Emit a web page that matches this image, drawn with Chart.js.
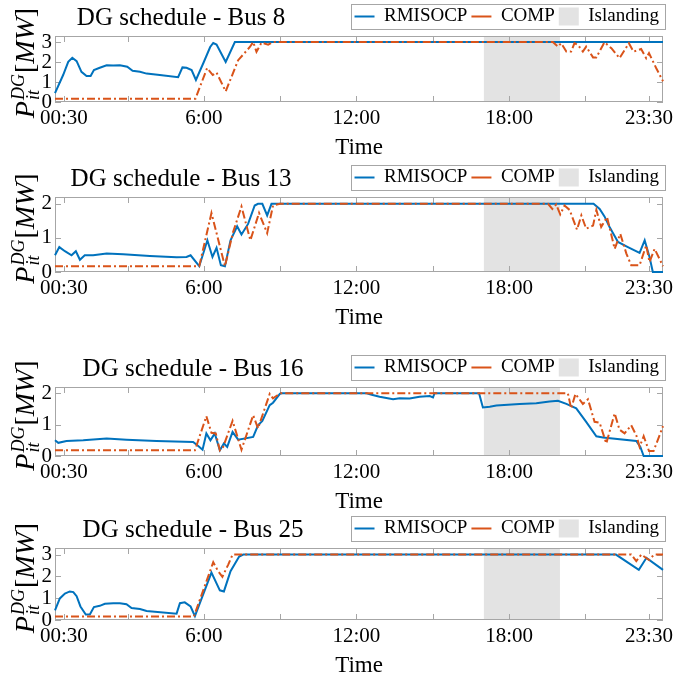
<!DOCTYPE html>
<html>
<head>
<meta charset="utf-8">
<script src="https://cdn.jsdelivr.net/npm/chart.js@4.4.1/dist/chart.umd.min.js"></script>
<style>
  body { margin: 0; background: #fff; }
  #page { position: relative; width: 674px; height: 681px; overflow: hidden; }
  .panel { position: absolute; left: 0; width: 674px; height: 180px; }
</style>
</head>
<body>
<div id="page"></div>
<script>
// time in hours, power in MW
const bus8Rmisocp = [[0.15,0.44],[0.47,1.35],[0.67,2.01],[0.83,2.21],[1.0,2.04],[1.19,1.51],[1.39,1.30],[1.55,1.30],[1.68,1.60],[1.91,1.71],[2.18,1.84],[2.44,1.83],[2.70,1.84],[2.99,1.76],[3.2,1.56],[3.49,1.51],[3.75,1.42],[4.27,1.35],[4.99,1.24],[5.16,1.73],[5.32,1.71],[5.52,1.60],[5.69,1.10],[6.0,2.0],[6.25,2.75],[6.37,2.95],[6.5,2.87],[6.86,2.0],[7.22,3.0],[24.05,3.0]];
const bus8Comp = [[0.15,0.16],[5.67,0.16],[6.13,1.70],[6.35,1.35],[6.5,1.47],[6.86,0.53],[7.35,2.09],[7.81,2.75],[7.94,3.0],[8.07,2.51],[8.27,2.97],[8.53,2.87],[8.72,3.0],[19.72,3.0],[19.92,2.77],[20.05,2.94],[20.25,2.52],[20.44,2.52],[20.57,2.94],[20.71,2.85],[20.9,2.52],[21.03,2.77],[21.3,2.23],[21.43,2.23],[21.75,2.99],[22.02,2.69],[22.34,2.19],[22.71,2.94],[22.89,2.52],[23.19,2.65],[23.39,2.19],[23.5,2.44],[23.78,1.70],[24.05,1.04]];

const bus13Rmisocp = [[0.15,0.49],[0.32,0.73],[0.54,0.61],[0.8,0.49],[0.97,0.61],[1.13,0.36],[1.32,0.49],[1.65,0.49],[2.18,0.54],[2.83,0.52],[3.88,0.47],[4.93,0.43],[5.32,0.44],[5.48,0.49],[5.82,0.17],[6.14,0.93],[6.34,0.44],[6.5,0.71],[6.67,0.2],[6.83,0.17],[7.05,0.93],[7.31,1.34],[7.48,1.10],[7.74,1.41],[8.0,1.95],[8.13,2.0],[8.3,2.0],[8.49,1.66],[8.66,2.0],[21.32,2.0],[21.56,1.85],[21.75,1.63],[21.95,1.32],[22.28,0.88],[22.67,0.73],[23.13,0.56],[23.33,0.93],[23.52,0.44],[23.65,0],[24.05,0]];
const bus13Comp = [[0.15,0.17],[5.82,0.17],[6.3,1.73],[6.83,0.17],[7.15,1.17],[7.48,1.92],[7.83,0.93],[8.17,1.73],[8.49,1.14],[8.72,1.95],[8.99,2.0],[19.53,2.0],[19.7,1.85],[19.85,1.98],[20.01,1.69],[20.18,1.95],[20.38,1.82],[20.67,1.24],[20.84,1.66],[21.03,1.27],[21.3,1.36],[21.43,1.82],[21.62,1.32],[21.85,1.61],[22.15,0.68],[22.37,1.12],[22.61,0.54],[22.8,0.2],[23.13,0.2],[23.39,0.78],[23.52,0.29],[23.72,0.68],[24.05,0.17]];

const bus16Rmisocp = [[0.15,0.5],[0.28,0.42],[0.6,0.48],[1.26,0.5],[2.18,0.56],[2.96,0.52],[4.14,0.48],[5.58,0.45],[5.78,0.32],[5.95,0.2],[6.1,0.72],[6.26,0.5],[6.43,0.72],[6.63,0.18],[6.79,0.4],[6.92,0.29],[7.13,0.77],[7.35,0.52],[7.94,0.61],[8.13,0.98],[8.3,1.12],[8.59,1.62],[8.72,1.7],[8.99,1.98],[9.05,2.0],[12.4,2.0],[12.6,1.95],[12.91,1.89],[13.44,1.81],[13.7,1.84],[14.09,1.83],[14.48,1.89],[14.88,1.91],[15.01,1.87],[15.07,2.0],[16.82,2.0],[16.97,1.55],[17.24,1.57],[17.5,1.61],[18.41,1.66],[19.07,1.68],[19.59,1.74],[19.92,1.76],[20.25,1.66],[20.64,1.52],[21.03,1.09],[21.43,0.63],[21.69,0.59],[23.0,0.48],[23.16,0.29],[23.29,0],[24.05,0]];
const bus16Comp = [[0.15,0.18],[5.65,0.18],[6.1,1.27],[6.3,0.74],[6.47,0.72],[6.63,0.18],[6.76,0.29],[7.13,1.12],[7.48,0.2],[7.94,1.3],[8.13,0.88],[8.59,1.98],[8.72,1.84],[9.01,2.0],[20.31,2.0],[20.44,1.52],[20.61,1.98],[20.9,1.66],[21.1,1.81],[21.36,1.09],[21.56,1.06],[21.82,0.4],[22.15,1.36],[22.34,0.84],[22.54,0.72],[22.8,0.98],[23.0,0.66],[23.13,0.29],[23.29,0.63],[23.5,0.16],[23.68,0.16],[24.05,0.95]];

const bus25Rmisocp = [[0.15,0.44],[0.34,0.99],[0.54,1.21],[0.73,1.31],[0.87,1.28],[1.0,1.09],[1.15,0.62],[1.36,0.25],[1.52,0.25],[1.68,0.59],[1.91,0.65],[2.11,0.74],[2.44,0.77],[2.7,0.77],[2.96,0.72],[3.16,0.55],[3.49,0.5],[3.75,0.41],[4.93,0.29],[5.06,0.77],[5.25,0.81],[5.48,0.62],[5.65,0.18],[6.3,2.17],[6.63,1.36],[6.79,1.31],[7.05,2.24],[7.39,2.91],[7.55,3.0],[22.2,3.0],[23.1,2.3],[23.4,2.85],[24.05,2.3]];
const bus25Comp = [[0.15,0.16],[5.61,0.16],[6.37,2.65],[6.56,2.24],[6.73,1.98],[6.96,2.54],[7.13,3.0],[22.8,3.0],[23.0,2.7],[23.2,3.0],[23.5,2.75],[23.7,3.0],[24.05,3.0]];

const busTitles = ['DG schedule - Bus 8', 'DG schedule - Bus 13', 'DG schedule - Bus 16', 'DG schedule - Bus 25'];
const rmisocpSeries = [bus8Rmisocp, bus13Rmisocp, bus16Rmisocp, bus25Rmisocp];
const compSeries = [bus8Comp, bus13Comp, bus16Comp, bus25Comp];
const yMaxes = [3.3, 2.2, 2.2, 3.3];
const yTickSets = [[0, 1, 2, 3], [0, 1, 2], [0, 1, 2], [0, 1, 2, 3]];
const xTickHours = [0.5, 3, 6, 9, 12, 15, 18, 21, 23.5];
const xTickLabels = ['00:30', '', '6:00', '', '12:00', '', '18:00', '', '23:30'];
const islanding = [17, 20];

const SERIF = '"Liberation Serif", "DejaVu Serif", serif';
const BLUE = '#0072BD';
const ORANGE = '#D95319';
const ISL = '#e3e3e3';
const AXIS = '#a6a6a6';

// plot box top/bottom on the page and title centre x
const boxes = [[36, 102], [197, 272], [387, 456], [548, 620]];
const titleX = [181, 181, 193, 193];

const panelPlugin = {
  id: 'panel',
  afterDatasetDraw(chart, args) {
    if (args.index !== 2) return;
    const { ctx, chartArea: a, scales: { x, y } } = chart;
    const i = chart.options.plugins.panel.idx;
    ctx.save();
    ctx.strokeStyle = AXIS;
    ctx.lineWidth = 1;
    ctx.strokeRect(a.left + 0.5, a.top + 0.5, a.width - 1, a.height - 1);
    ctx.beginPath();
    xTickHours.forEach(h => {
      const px = Math.round(x.getPixelForValue(h)) + 0.5;
      ctx.moveTo(px, a.bottom); ctx.lineTo(px, a.bottom - 6);
      ctx.moveTo(px, a.top); ctx.lineTo(px, a.top + 6);
    });
    yTickSets[i].forEach(v => {
      const py = Math.round(y.getPixelForValue(v)) + 0.5;
      ctx.moveTo(a.left, py); ctx.lineTo(a.left + 6, py);
      ctx.moveTo(a.right, py); ctx.lineTo(a.right - 6, py);
    });
    ctx.stroke();
    ctx.restore();
  },
  afterDraw(chart) {
    const { ctx, chartArea: a } = chart;
    const i = chart.options.plugins.panel.idx;
    ctx.save();
    // title
    ctx.fillStyle = '#000';
    ctx.font = '25px ' + SERIF;
    ctx.textAlign = 'center';
    ctx.textBaseline = 'middle';
    ctx.fillText(busTitles[i], titleX[i], a.top - 18);
    // legend frame
    const hb = chart.legend.legendHitBoxes;
    const l = Math.min(...hb.map(b => b.left)) - 4;
    const r = Math.max(...hb.map(b => b.left + b.width)) + 6;
    const t = hb[0].top - 3;
    const bt = hb[0].top + hb[0].height + 3;
    ctx.strokeStyle = AXIS;
    ctx.lineWidth = 1;
    ctx.strokeRect(Math.round(l) + 0.5, Math.round(t) + 0.5, Math.round(r - l), Math.round(bt - t));
    // y label P_it^DG [MW]
    ctx.translate(34, (a.top + a.bottom) / 2 - 6);
    ctx.rotate(-Math.PI / 2);
    ctx.textAlign = 'left';
    ctx.textBaseline = 'alphabetic';
    const big = 28, small = 18;
    const parts = [
      { s: 'P', f: 'italic ' + big + 'px ' + SERIF },
      { s: 'DG', f: 'italic ' + small + 'px ' + SERIF, dy: -10 },
      { s: 'it', f: 'italic ' + small + 'px ' + SERIF, dy: 5 },
      { s: '[', f: big + 'px ' + SERIF },
      { s: 'MW', f: 'italic ' + big + 'px ' + SERIF },
      { s: ']', f: big + 'px ' + SERIF }
    ];
    parts.forEach(p => { ctx.font = p.f; p.w = ctx.measureText(p.s).width; });
    const scriptW = Math.max(parts[1].w, parts[2].w) + 1;
    const total = parts[0].w + 1 + scriptW + parts[3].w + parts[4].w + parts[5].w;
    let cx = -total / 2;
    ctx.font = parts[0].f; ctx.fillText('P', cx, 0); cx += parts[0].w + 1;
    ctx.font = parts[1].f; ctx.fillText('DG', cx, parts[1].dy);
    ctx.fillText('it', cx, parts[2].dy); cx += scriptW;
    for (let k = 3; k < 6; k++) { ctx.font = parts[k].f; ctx.fillText(parts[k].s, cx, 0); cx += parts[k].w; }
    ctx.restore();
  }
};

const page = document.getElementById('page');

function buildPanel(i) {
  const wrap = document.createElement('div');
  wrap.className = 'panel';
  page.appendChild(wrap);
  const canvas = document.createElement('canvas');
  wrap.appendChild(canvas);
  const toXY = arr => arr.map(p => ({ x: p[0], y: p[1] }));
  const chart = new Chart(canvas, {
    type: 'line',
    data: {
      datasets: [
        { label: 'RMISOCP', data: toXY(rmisocpSeries[i]), borderColor: BLUE, backgroundColor: BLUE,
          borderWidth: 2, pointRadius: 0, pointStyle: 'line', order: 1, clip: 3 },
        { label: 'COMP', data: toXY(compSeries[i]), borderColor: ORANGE, backgroundColor: ORANGE,
          borderWidth: 2, borderDash: [8, 3, 2, 3], pointRadius: 0, pointStyle: 'line', order: 0, clip: 3 },
        { label: 'Islanding', data: islanding.map(h => ({ x: h, y: yMaxes[i] })), borderColor: 'rgba(0,0,0,0)',
          backgroundColor: ISL, borderWidth: 0, pointRadius: 0, pointStyle: 'rect', fill: 'start', order: 2 }
      ]
    },
    options: {
      responsive: true,
      maintainAspectRatio: false,
      animation: false,
      events: [],
      devicePixelRatio: 1,
      layout: { padding: { top: 2, right: 11, left: 0, bottom: 0 } },
      plugins: {
        panel: { idx: i },
        tooltip: { enabled: false },
        legend: {
          position: 'top',
          align: 'end',
          labels: {
            usePointStyle: true, pointStyleWidth: 20, boxHeight: 18, padding: 4,
            color: '#000', font: { family: SERIF, size: 19 },
            sort: (a, b) => a.datasetIndex - b.datasetIndex
          }
        }
      },
      scales: {
        x: {
          type: 'linear', min: 0.15, max: 24.05,
          grid: { display: false, drawTicks: false }, border: { display: false },
          afterBuildTicks: s => { s.ticks = xTickHours.map(v => ({ value: v })); },
          ticks: { autoSkip: false, maxRotation: 0, padding: 4, color: '#000',
            font: { family: SERIF, size: 21 }, callback: (v, k) => xTickLabels[k] },
          title: { display: true, text: 'Time', color: '#000', font: { family: SERIF, size: 23 },
            padding: { top: 0, bottom: 2 } },
          afterFit: s => { s.height = 62; s.paddingLeft = 0; s.paddingRight = 0; }
        },
        y: {
          min: 0, max: yMaxes[i],
          grid: { display: false, drawTicks: false }, border: { display: false },
          afterBuildTicks: s => { s.ticks = yTickSets[i].map(v => ({ value: v })); },
          ticks: { autoSkip: false, padding: 3, color: '#000', font: { family: SERIF, size: 21 } },
          afterFit: s => { s.width = 55; }
        }
      }
    },
    plugins: [panelPlugin]
  });
  const off = chart.chartArea.top;
  const [top, bottom] = boxes[i];
  wrap.style.top = Math.round(top - off) + 'px';
  wrap.style.height = Math.round(off + (bottom - top) + 62) + 'px';
  chart.resize();
}

for (let i = 0; i < 4; i++) buildPanel(i);
</script>
</body>
</html>
